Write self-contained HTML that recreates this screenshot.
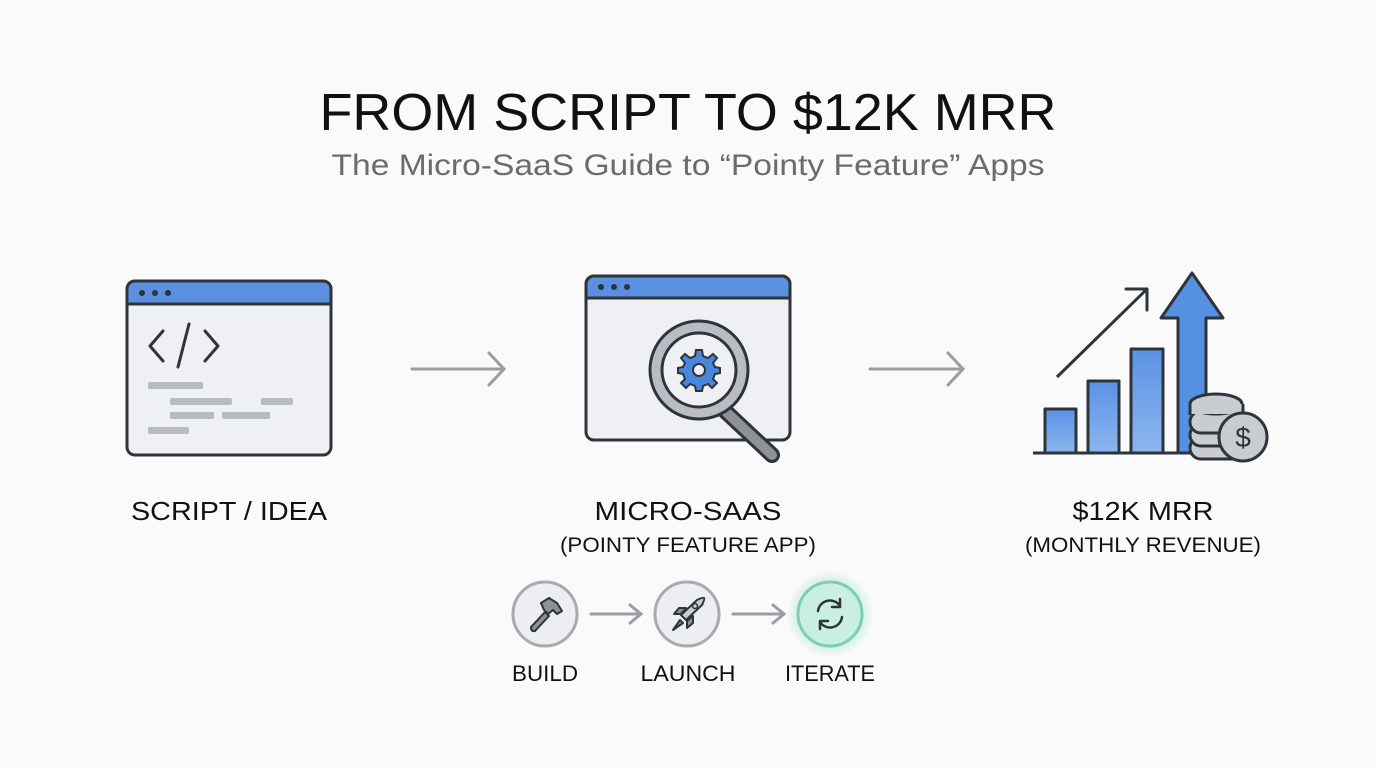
<!DOCTYPE html>
<html><head><meta charset="utf-8"><style>
html,body{margin:0;padding:0;background:#fafafa;}
svg{display:block;font-family:"Liberation Sans",sans-serif;}
</style></head><body>
<svg width="1376" height="768" viewBox="0 0 1376 768" xmlns="http://www.w3.org/2000/svg">
<defs>
<radialGradient id="gl"><stop offset="0.6" stop-color="#9fe0cf" stop-opacity="0.6"/><stop offset="1" stop-color="#9fe0cf" stop-opacity="0"/></radialGradient>
<linearGradient id="bar" x1="0" y1="1" x2="0" y2="0"><stop offset="0" stop-color="#8cb6ef"/><stop offset="1" stop-color="#5a92e4"/></linearGradient>
</defs>
<rect width="1376" height="768" fill="#fafafa"/>
<text x="688" y="130" text-anchor="middle" font-size="52" fill="#111" textLength="737" lengthAdjust="spacingAndGlyphs">FROM SCRIPT TO $12K MRR</text>
<text x="688" y="175" text-anchor="middle" font-size="30" fill="#6b6b6b" textLength="713" lengthAdjust="spacingAndGlyphs">The Micro-SaaS Guide to “Pointy Feature” Apps</text>

<!-- window 1 -->
<rect x="127" y="281" width="204" height="174" rx="8" fill="#eef0f3" stroke="#2f343a" stroke-width="3"/>
<path d="M127 304 V289 a8 8 0 0 1 8 -8 H323 a8 8 0 0 1 8 8 V304 Z" fill="#5b8fe0" stroke="#2f343a" stroke-width="3"/>
<circle cx="142" cy="293" r="3" fill="#2f343a"/><circle cx="155" cy="293" r="3" fill="#2f343a"/><circle cx="168" cy="293" r="3" fill="#2f343a"/>
<g stroke="#2f343a" stroke-width="3" fill="none" stroke-linecap="round" stroke-linejoin="round">
<path d="M163 331 L150 346 L163 361"/><path d="M189 324 L178 367"/><path d="M205 331 L218 346 L205 361"/>
</g>
<g fill="#b7bbc2">
<rect x="148" y="382" width="55" height="7" rx="2"/>
<rect x="170" y="398" width="62" height="7" rx="2"/><rect x="261" y="398" width="32" height="7" rx="2"/>
<rect x="170" y="412" width="44" height="7" rx="2"/><rect x="222" y="412" width="48" height="7" rx="2"/>
<rect x="148" y="427" width="41" height="7" rx="2"/>
</g>

<!-- arrows -->
<g stroke="#9a9da2" stroke-width="3" fill="none" stroke-linecap="round">
<path d="M412 369 H503 M489 353 L504 369 L489 385"/>
<path d="M870 369 H962 M948 353 L963 369 L948 385"/>
</g>

<!-- window 2 -->
<rect x="586" y="276" width="204" height="164" rx="8" fill="#eef0f3" stroke="#2f343a" stroke-width="3"/>
<path d="M586 298 V284 a8 8 0 0 1 8 -8 H782 a8 8 0 0 1 8 8 V298 Z" fill="#5b8fe0" stroke="#2f343a" stroke-width="3"/>
<circle cx="601" cy="287" r="3" fill="#2f343a"/><circle cx="614" cy="287" r="3" fill="#2f343a"/><circle cx="627" cy="287" r="3" fill="#2f343a"/>
<path d="M724 410 L772 455" stroke="#2f343a" stroke-width="16" stroke-linecap="round"/>
<path d="M724 410 L772 455" stroke="#8e9297" stroke-width="10" stroke-linecap="round"/>
<circle cx="699" cy="370" r="49" fill="#b9bdc3" stroke="#2f343a" stroke-width="3"/>
<circle cx="699" cy="370" r="37" fill="#eef0f3" stroke="#2f343a" stroke-width="3"/>
<g transform="translate(699,370)">
<g fill="#4a86dc" stroke="#2f343a" stroke-width="2">
<path d="M-3 -20 H3 L4 -14 L9 -12 L14 -16 L18 -12 L14 -7 L16 -3 L21 -2 V3 L16 4 L14 9 L18 13 L13 18 L9 14 L4 16 L3 21 H-3 L-4 16 L-9 14 L-13 18 L-18 13 L-14 9 L-16 4 L-21 3 V-2 L-16 -3 L-14 -7 L-18 -12 L-14 -16 L-9 -12 L-4 -14 Z"/>
</g>
<circle r="6" fill="#eef0f3" stroke="#2f343a" stroke-width="2"/>
</g>

<!-- chart -->
<g stroke="#2f343a" stroke-width="3" stroke-linejoin="round">
<rect x="1045" y="409" width="31" height="44" fill="url(#bar)"/>
<rect x="1088" y="381" width="31" height="72" fill="url(#bar)"/>
<rect x="1131" y="349" width="32" height="104" fill="url(#bar)"/>
<path d="M1178 453 V318 H1161 L1192 273 L1223 318 H1206 V453 Z" fill="#5590e2"/>
<path d="M1057 377 L1147 289" fill="none"/>
<path d="M1126 289 H1147 V310" fill="none" stroke-linecap="round"/>
<path d="M1033 453 H1195" fill="none"/>
<g fill="#c9ccd1">
<rect x="1190" y="437" width="53" height="22" rx="11"/>
<rect x="1190" y="424" width="53" height="22" rx="11"/>
<rect x="1190" y="411" width="53" height="22" rx="11"/>
<ellipse cx="1216" cy="404" rx="26" ry="10"/>
<rect x="1190" y="404" width="53" height="10" stroke="none"/>
<path d="M1190 404 V415 M1243 404 V415" fill="none"/>
</g>
<circle cx="1243" cy="437" r="24" fill="#c9ccd1"/>
</g>
<text x="1243" y="447" text-anchor="middle" font-size="28" fill="#2f343a">$</text>

<!-- labels -->
<g fill="#111">
<text x="229" y="520" text-anchor="middle" font-size="26" textLength="196" lengthAdjust="spacingAndGlyphs">SCRIPT / IDEA</text>
<text x="688" y="520" text-anchor="middle" font-size="26" textLength="187" lengthAdjust="spacingAndGlyphs">MICRO-SAAS</text>
<text x="688" y="552" text-anchor="middle" font-size="21" textLength="256" lengthAdjust="spacingAndGlyphs">(POINTY FEATURE APP)</text>
<text x="1143" y="520" text-anchor="middle" font-size="26" textLength="141" lengthAdjust="spacingAndGlyphs">$12K MRR</text>
<text x="1143" y="552" text-anchor="middle" font-size="21" textLength="236" lengthAdjust="spacingAndGlyphs">(MONTHLY REVENUE)</text>
</g>

<!-- steps -->
<circle cx="830" cy="614" r="44" fill="url(#gl)"/>
<circle cx="545" cy="614" r="32" fill="#eceef1" stroke="#a7abb0" stroke-width="3"/>
<circle cx="687" cy="614" r="32" fill="#eceef1" stroke="#a7abb0" stroke-width="3"/>
<circle cx="830" cy="614" r="32" fill="#c9efe3" stroke="#7fcdb6" stroke-width="3"/>
<g stroke="#9a9da2" stroke-width="3" fill="none" stroke-linecap="round">
<path d="M591 614 H640 M630 605 L641 614 L630 623"/>
<path d="M733 614 H783 M773 605 L784 614 L773 623"/>
</g>
<!-- hammer -->
<g stroke="#2f343a" stroke-width="2" stroke-linejoin="round" fill="#8e9297">
<path d="M531 627 L545 612 L549 616 L535 631 Q531 632 531 627 Z"/>
<path d="M541 603 L549 598 L557 603 L562 611 L557 614 L553 610 L548 614 L544 610 Z"/>
</g>
<!-- rocket -->
<g stroke="#2f343a" stroke-width="2" stroke-linejoin="round" fill="#8e9297">
<path d="M681 614 L674 614 L679 608 L686 608 Z"/>
<path d="M687 621 L687 628 L693 623 L693 616 Z"/>
<path d="M681 615 L697 600 Q703 597 704 598 Q705 599 702 605 L686 620 Z" fill="#c9ccd1"/>
<path d="M680 620 L673 630 L683 623 Z"/>
</g>
<circle cx="695" cy="606" r="2.5" fill="none" stroke="#2f343a" stroke-width="1.5"/>
<!-- iterate -->
<g stroke="#2f343a" stroke-width="2.5" fill="none" stroke-linecap="round" stroke-linejoin="round">
<path d="M818 611 A12 12 0 0 1 840 606"/><path d="M840 599 V607 H832"/>
<path d="M842 617 A12 12 0 0 1 820 622"/><path d="M820 629 V621 H828"/>
</g>
<g fill="#111" font-size="22">
<text x="545" y="681" text-anchor="middle" textLength="66" lengthAdjust="spacingAndGlyphs">BUILD</text>
<text x="688" y="681" text-anchor="middle" textLength="95" lengthAdjust="spacingAndGlyphs">LAUNCH</text>
<text x="830" y="681" text-anchor="middle" textLength="90" lengthAdjust="spacingAndGlyphs">ITERATE</text>
</g>
</svg>
</body></html>
